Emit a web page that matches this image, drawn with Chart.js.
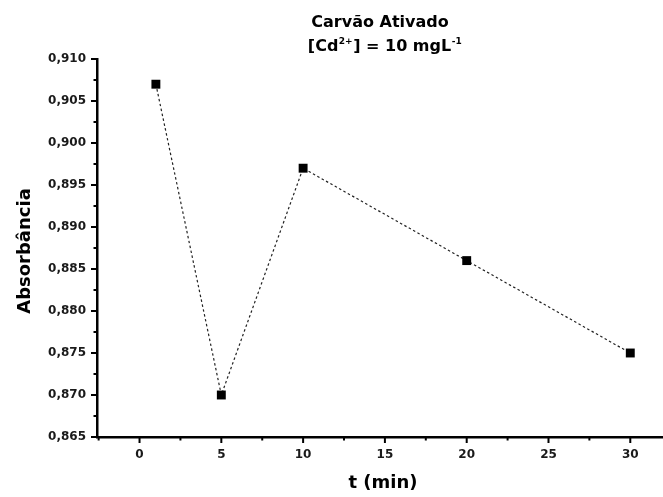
<!DOCTYPE html>
<html><head><meta charset="utf-8">
<script src="https://cdn.jsdelivr.net/npm/chart.js@4.4.0/dist/chart.umd.min.js"></script>
<style>html,body{margin:0;padding:0;background:#fff;} #wrap{width:663px;height:497px;}</style>
</head><body><div id="wrap"><canvas id="c" width="663" height="497"></canvas></div>
<script>
const timeMin = [1, 5, 10, 20, 30];
const absorbance = [0.907, 0.870, 0.897, 0.886, 0.875];
const xTickValues = [0, 5, 10, 15, 20, 25, 30];
const xMinorValues = [-2.5, 2.5, 7.5, 12.5, 17.5, 22.5, 27.5];
const yTickValues = [0.865, 0.870, 0.875, 0.880, 0.885, 0.890, 0.895, 0.900, 0.905, 0.910];
const yMinorValues = [0.8675, 0.8725, 0.8775, 0.8825, 0.8875, 0.8925, 0.8975, 0.9025, 0.9075];
const titleLine1 = 'Carvão Ativado';
const titleLine2Parts = [['[Cd', false], ['2+', true], ['] = 10 mgL', false], ['-1', true]];
const xTitle = 't (min)';
const yTitle = 'Absorbância';

const FONT = '"DejaVu Sans", "Liberation Sans", Arial, sans-serif';

const decor = {
  id: 'decor',
  afterDraw(chart) {
    const ctx = chart.ctx;
    const xs = chart.scales.x, ys = chart.scales.y;
    const area = chart.chartArea;
    ctx.save();
    ctx.strokeStyle = '#000';
    ctx.lineWidth = 2;
    // x ticks
    const yb = xs.top;
    xTickValues.forEach(v => { const p = xs.getPixelForValue(v); ctx.beginPath(); ctx.moveTo(p, yb); ctx.lineTo(p, yb + 6); ctx.stroke(); });
    xMinorValues.forEach(v => { if (v < xs.min || v > xs.max) return; const p = xs.getPixelForValue(v); ctx.beginPath(); ctx.moveTo(p, yb); ctx.lineTo(p, yb + 3.5); ctx.stroke(); });
    // y ticks
    const xl = ys.right;
    yTickValues.forEach(v => { const p = ys.getPixelForValue(v); ctx.beginPath(); ctx.moveTo(xl, p); ctx.lineTo(xl - 6, p); ctx.stroke(); });
    yMinorValues.forEach(v => { const p = ys.getPixelForValue(v); ctx.beginPath(); ctx.moveTo(xl, p); ctx.lineTo(xl - 3.5, p); ctx.stroke(); });

    ctx.fillStyle = '#000';
    // axis titles
    ctx.font = 'bold 18px ' + FONT;
    ctx.textAlign = 'center';
    ctx.textBaseline = 'middle';
    ctx.fillText(xTitle, (area.left + area.right) / 2 + 3, 483);
    ctx.save();
    ctx.translate(25, 251);
    ctx.rotate(-Math.PI / 2);
    ctx.fillText(yTitle, 0, 0);
    ctx.restore();

    // chart title
    ctx.textBaseline = 'alphabetic';
    ctx.font = 'bold 16px ' + FONT;
    ctx.textAlign = 'center';
    ctx.fillText(titleLine1, 380, 27);
    // line 2 with superscripts
    ctx.textAlign = 'left';
    const mainF = 'bold 16px ' + FONT, supF = 'bold 9px ' + FONT;
    let total = 0;
    titleLine2Parts.forEach(([t, sup]) => { ctx.font = sup ? supF : mainF; total += ctx.measureText(t).width + (sup ? 1 : 0); });
    let x = 385 - total / 2;
    titleLine2Parts.forEach(([t, sup]) => {
      ctx.font = sup ? supF : mainF;
      ctx.fillText(t, x + (sup ? 0.5 : 0), sup ? 44 : 51);
      x += ctx.measureText(t).width + (sup ? 1 : 0);
    });
    ctx.restore();
  }
};

new Chart(document.getElementById('c'), {
  type: 'line',
  data: {
    datasets: [{
      data: timeMin.map((t, i) => ({ x: t, y: absorbance[i] })),
      borderColor: '#222',
      borderWidth: 1.2,
      borderDash: [2.5, 2.5],
      pointStyle: 'rect',
      pointRadius: 6.3,
      pointHoverRadius: 6.3,
      pointBackgroundColor: '#000',
      pointBorderColor: '#000',
      pointBorderWidth: 0,
      fill: false,
      tension: 0
    }]
  },
  options: {
    responsive: false,
    animation: false,
    devicePixelRatio: 1,
    layout: { autoPadding: false, padding: { top: 59, right: 0, left: 0, bottom: 0 } },
    plugins: { legend: { display: false }, tooltip: { enabled: false }, title: { display: false } },
    scales: {
      x: {
        type: 'linear',
        min: -2.6,
        max: 32,
        afterBuildTicks: s => { s.ticks = xTickValues.map(v => ({ value: v })); },
        afterFit: s => { s.height = 60; },
        ticks: { font: { family: FONT, size: 12, weight: 'bold' }, color: '#1a1a1a', padding: 11, maxRotation: 0, callback: v => String(v) },
        grid: { drawOnChartArea: false, drawTicks: false },
        border: { color: '#000', width: 2.5 }
      },
      y: {
        type: 'linear',
        min: 0.865,
        max: 0.910,
        afterBuildTicks: s => { s.ticks = yTickValues.map(v => ({ value: v })); },
        afterFit: s => { s.width = 97; },
        ticks: { font: { family: FONT, size: 12, weight: 'bold' }, color: '#1a1a1a', padding: 11, callback: v => v.toFixed(3).replace('.', ',') },
        grid: { drawOnChartArea: false, drawTicks: false },
        border: { color: '#000', width: 2.5 }
      }
    }
  },
  plugins: [decor]
});
</script>
</body></html>
